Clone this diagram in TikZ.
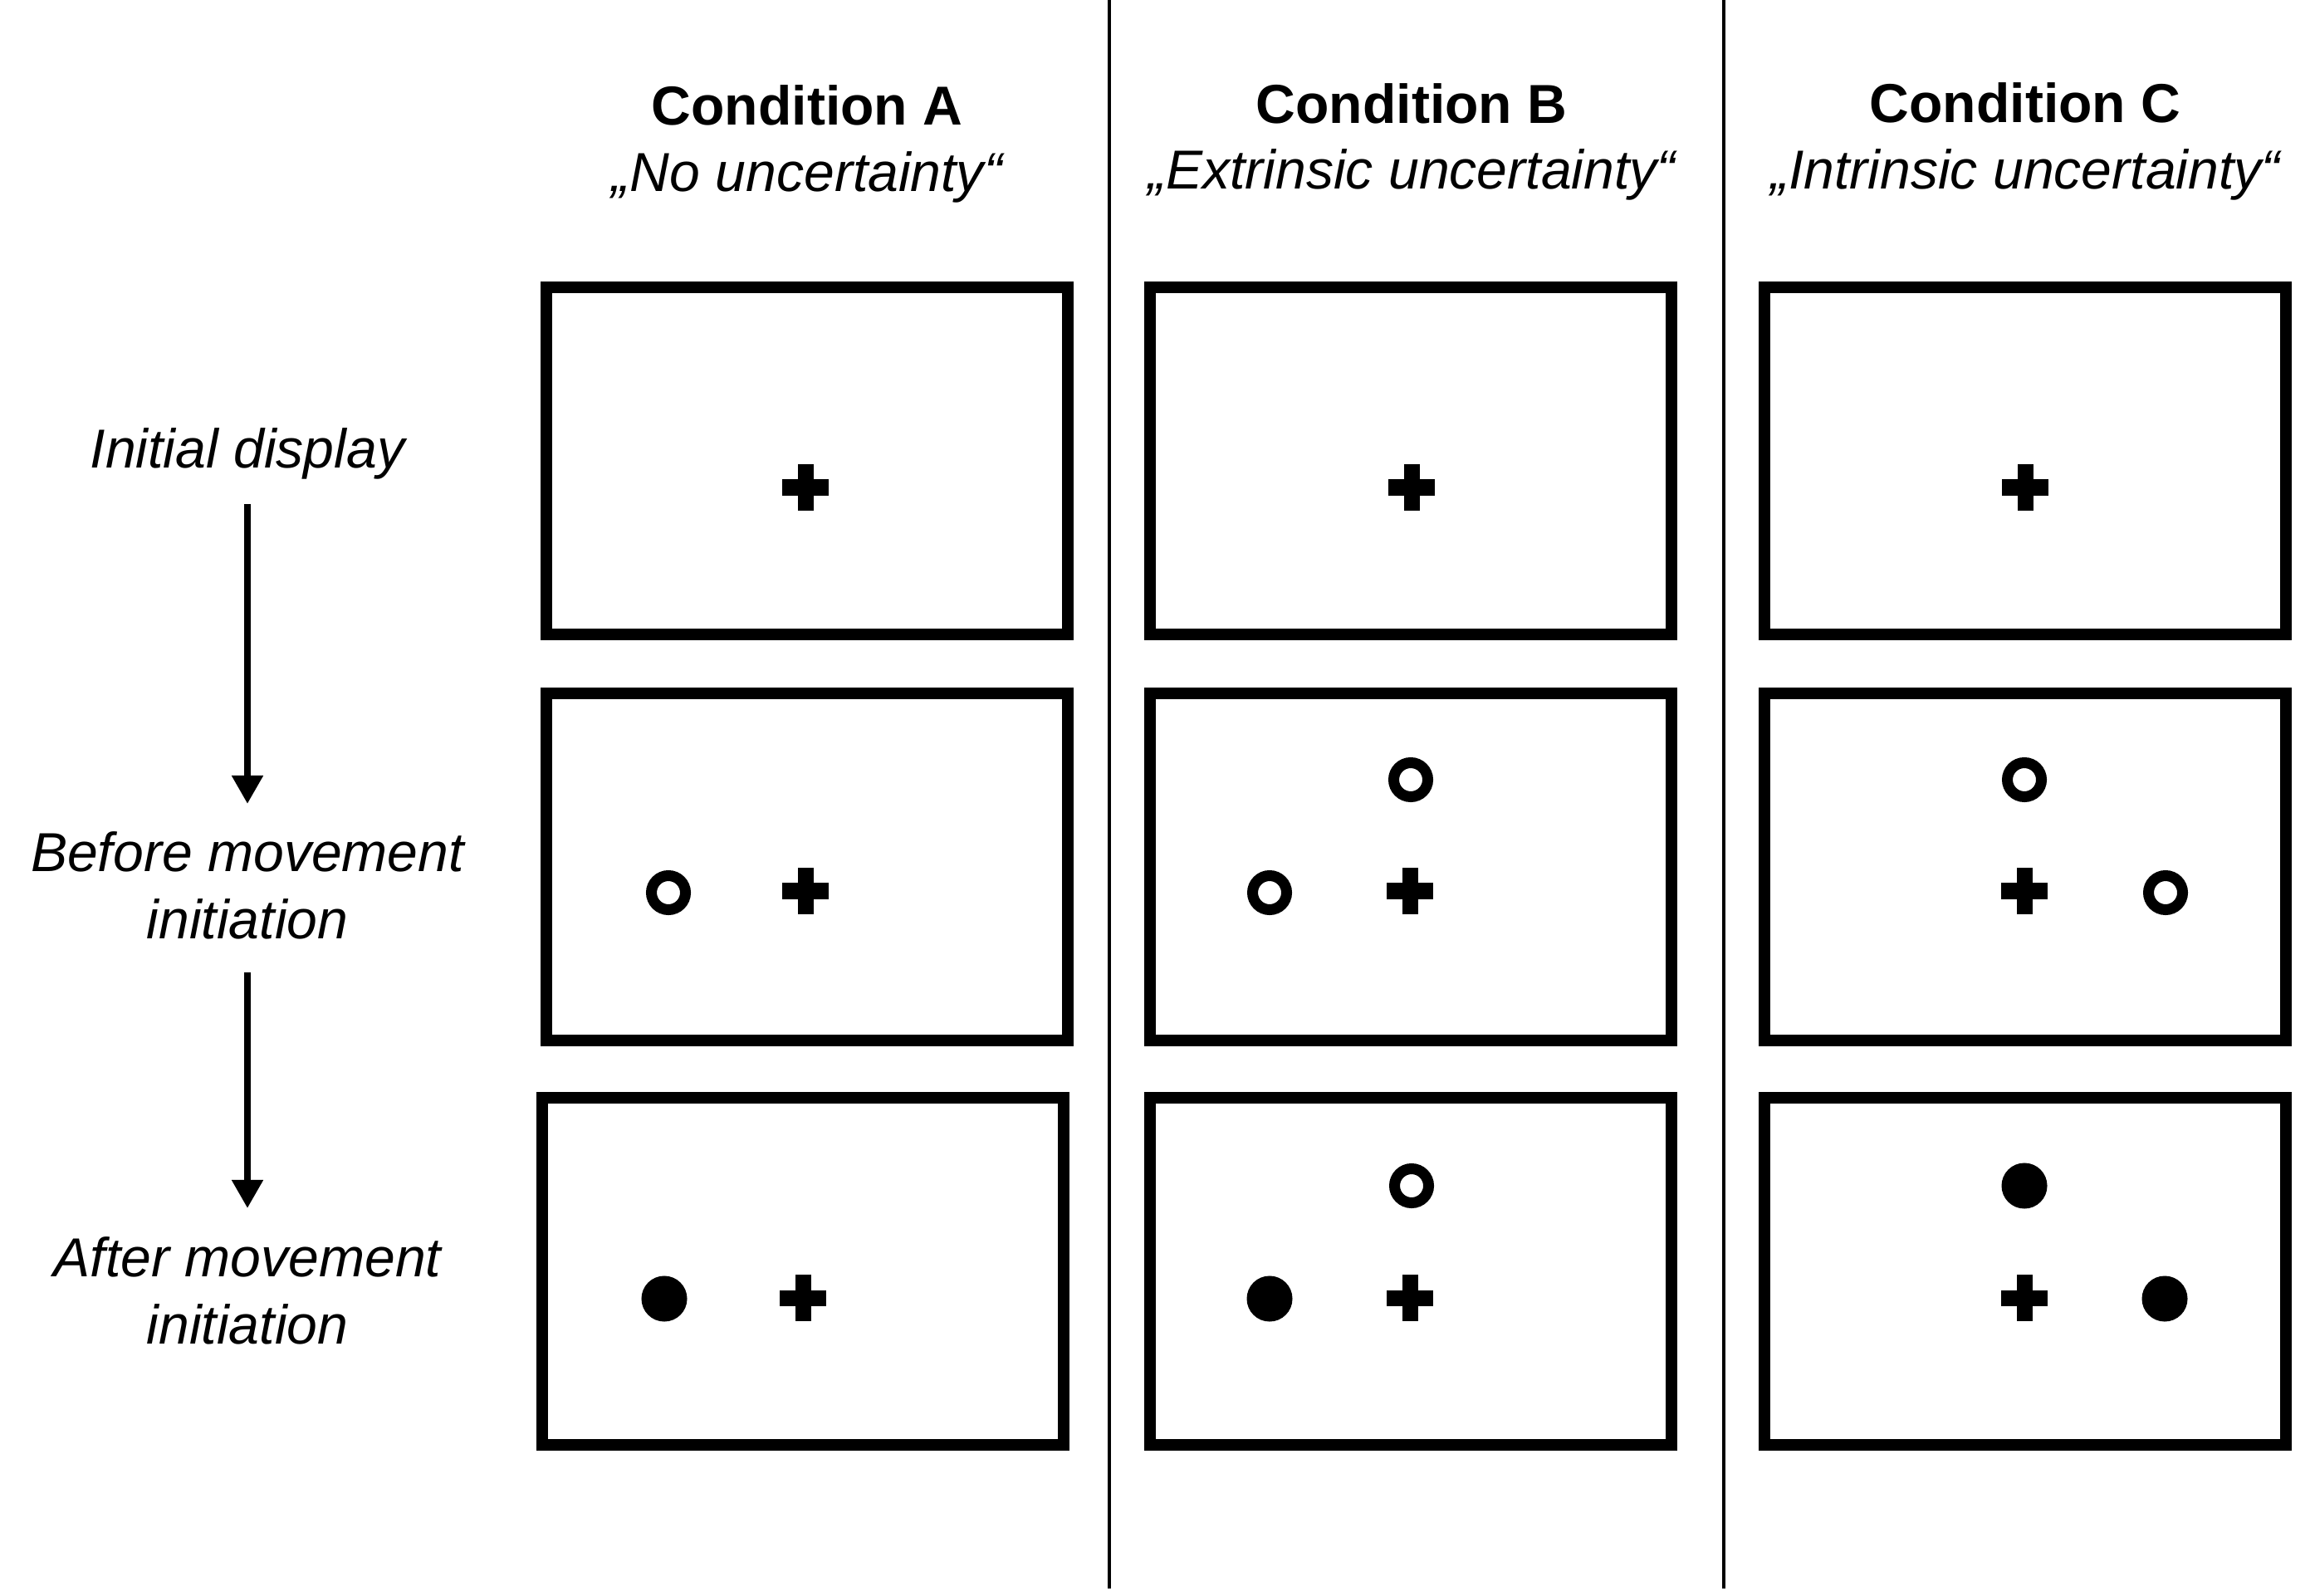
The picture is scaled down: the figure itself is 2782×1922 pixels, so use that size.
\documentclass[tikz,border=0pt]{standalone}
\usepackage{fontspec}
\setmainfont{Liberation Sans}
\usetikzlibrary{arrows.meta}
\begin{document}
\begin{tikzpicture}[x=0.01cm,y=-0.01cm,
  screen/.style={draw=black, line width=0.14cm, minimum width=6.27cm, minimum height=4.17cm, inner sep=0pt},
  crossmark/.style={minimum size=0.56cm, inner sep=0pt,
    path picture={
      \fill[black] ([xshift=-0.28cm,yshift=-0.095cm]path picture bounding box.center) rectangle ++(0.56cm,0.19cm);
      \fill[black] ([xshift=-0.095cm,yshift=-0.28cm]path picture bounding box.center) rectangle ++(0.19cm,0.56cm);
    }},
  ring/.style={circle, draw=black, line width=0.13cm, minimum size=0.41cm, inner sep=0pt},
  dot/.style={circle, fill=black, minimum size=0.55cm, inner sep=0pt},
  title/.style={font=\fontsize{18.8}{23}\selectfont\bfseries, inner sep=0pt, anchor=base},
  sub/.style={font=\fontsize{18.8}{23}\selectfont\itshape, inner sep=0pt, anchor=base},
  lab/.style={font=\fontsize{18.8}{23}\selectfont\itshape, inner sep=0pt, anchor=base, align=center},
  arr/.style={line width=0.08cm, -{Triangle[width=0.36cm,length=0.34cm]}},
  divider/.style={line width=0.04cm}
]
\useasboundingbox (0,0) rectangle (2782,1922);

% titles
\node[title] (tA) at (972,151) {Condition A};
\node[sub]   (sA) at (972,231) {„No uncertainty“};
\node[title] (tB) at (1700,149) {Condition B};
\node[sub]   (sB) at (1700,228) {„Extrinsic uncertainty“};
\node[title] (tC) at (2439,148) {Condition C};
\node[sub]   (sC) at (2439,228) {„Intrinsic uncertainty“};

% dividers
\coordinate (d1t) at (1336,0);
\coordinate (d1b) at (1336,1913);
\coordinate (d2t) at (2076,0);
\coordinate (d2b) at (2076,1913);
\draw[divider] (d1t) -- (d1b);
\draw[divider] (d2t) -- (d2b);

% left labels (anchor=base is the baseline of the last line)
\node[lab] (init) at (298,564) {Initial display};
\node[lab] (before) at (298,1130) {Before movement\\initiation};
\node[lab] (after) at (298,1618) {After movement\\initiation};
\coordinate (a1s) at (298,607);
\coordinate (a1e) at (298,968);
\coordinate (a2s) at (298,1171);
\coordinate (a2e) at (298,1455);
\draw[arr] (a1s) -- (a1e);
\draw[arr] (a2s) -- (a2e);

% screens
\node[screen] (A1) at (972,555) {};
\node[screen] (A2) at (972,1044) {};
\node[screen] (A3) at (967,1531) {};
\node[screen] (B1) at (1699,555) {};
\node[screen] (B2) at (1699,1044) {};
\node[screen] (B3) at (1699,1531) {};
\node[screen] (C1) at (2439,555) {};
\node[screen] (C2) at (2439,1044) {};
\node[screen] (C3) at (2439,1531) {};

% row 1
\node[crossmark] (xA1) at (970,587) {};
\node[crossmark] (xB1) at (1700,587) {};
\node[crossmark] (xC1) at (2439,587) {};

% row 2
\node[crossmark] (xA2) at (970,1073) {};
\node[ring] (rA2) at (805,1075) {};
\node[crossmark] (xB2) at (1698,1073) {};
\node[ring] (rB2l) at (1529,1075) {};
\node[ring] (rB2t) at (1699,939) {};
\node[crossmark] (xC2) at (2438,1073) {};
\node[ring] (rC2r) at (2608,1075) {};
\node[ring] (rC2t) at (2438,939) {};

% row 3
\node[crossmark] (xA3) at (967,1563) {};
\node[dot] (dA3) at (800,1564) {};
\node[crossmark] (xB3) at (1698,1563) {};
\node[dot] (dB3) at (1529,1564) {};
\node[ring] (rB3t) at (1700,1428) {};
\node[crossmark] (xC3) at (2438,1563) {};
\node[dot] (dC3r) at (2607,1564) {};
\node[dot] (dC3t) at (2438,1428) {};
\end{tikzpicture}
\end{document}
